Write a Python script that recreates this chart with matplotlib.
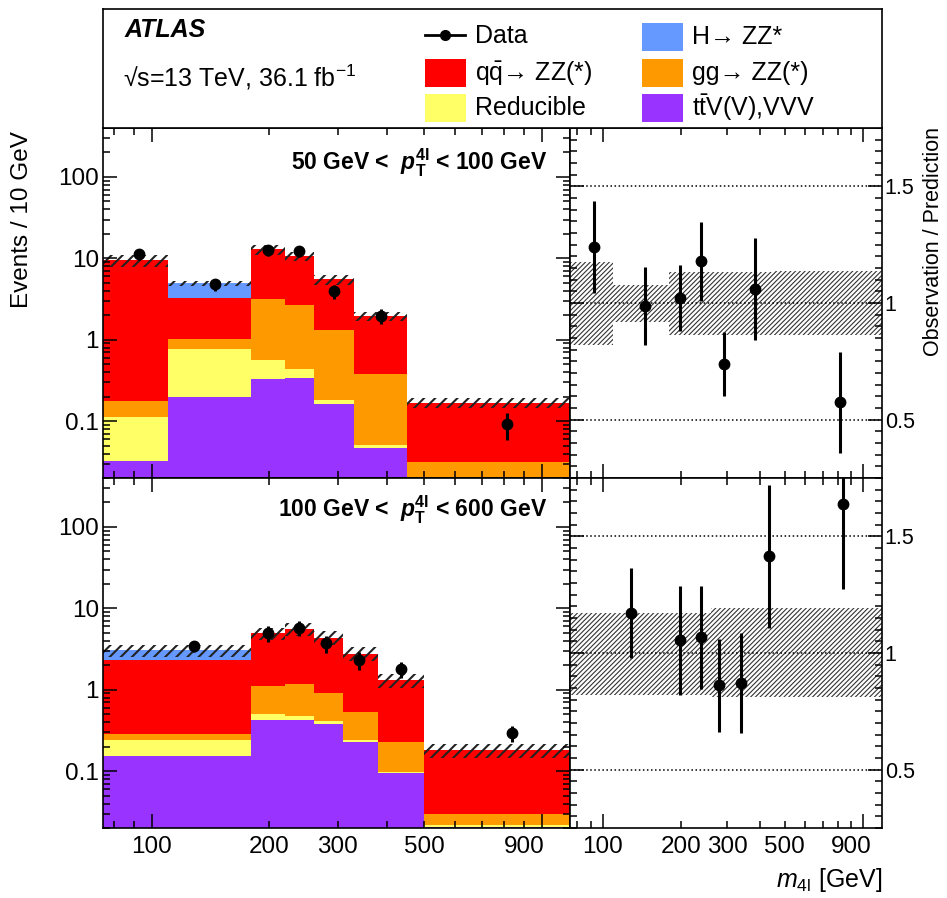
import numpy as np
import matplotlib
matplotlib.use("Agg")
import matplotlib.pyplot as plt
from matplotlib.patches import Rectangle
from matplotlib.lines import Line2D
from matplotlib.ticker import FixedLocator, FuncFormatter, MultipleLocator

plt.rcParams["font.family"] = ["Liberation Sans", "DejaVu Sans"]
plt.rcParams["mathtext.fontset"] = "custom"
plt.rcParams["mathtext.rm"] = "Liberation Sans"
plt.rcParams["mathtext.it"] = "Liberation Sans:italic"
plt.rcParams["mathtext.bf"] = "Liberation Sans:bold"
plt.rcParams["mathtext.bfit"] = "Liberation Sans:bold:italic"

# m4l bin edges [GeV]
edges_lo = [70, 110, 180, 220, 260, 330, 450, 1500]   # 50 < pT4l < 100
edges_hi = [70, 180, 220, 260, 310, 380, 500, 1500]   # 100 < pT4l < 600

# predictions per bin (stack order bottom -> top)
ttv_lo = [0.032, 0.20, 0.33, 0.335, 0.16, 0.046, 0.008]
red_lo = [0.080, 0.57, 0.23, 0.105, 0.024, 0.0045, 0.002]
gg_lo = [0.067, 0.263, 2.63, 2.23, 1.126, 0.332, 0.021]
qq_lo = [9.27, 2.24, 9.7, 8.03, 4.21, 1.57, 0.137]
h_lo = [0.0, 1.65, 0.0, 0.0, 0.0, 0.0, 0.0]

ttv_hi = [0.152, 0.423, 0.43, 0.382, 0.227, 0.0953, 0.0205]
red_hi = [0.088, 0.084, 0.04, 0.028, 0.011, 0.003, 0.001]
gg_hi = [0.042, 0.60, 0.69, 0.508, 0.292, 0.131, 0.008]
qq_hi = [2.01, 3.82, 4.47, 3.44, 2.24, 1.08, 0.15]
h_hi = [0.75, 0.0, 0.0, 0.0, 0.0, 0.0, 0.0]

# relative uncertainty band
band_up_lo = [1.174, 1.078, 1.131, 1.131, 1.131, 1.131, 1.135]
band_dn_lo = [0.821, 0.917, 0.864, 0.864, 0.864, 0.864, 0.864]
band_up_hi = [1.171, 1.171, 1.171, 1.193, 1.193, 1.193, 1.193]
band_dn_hi = [0.820, 0.820, 0.820, 0.812, 0.812, 0.812, 0.812]

# data
xdat_lo = [93, 145, 199, 239, 293, 386, 815]
data_lo = [11.3, 4.83, 12.6, 12.2, 3.96, 1.98, 0.0925]
derr_lo = [1.8, 0.82, 1.8, 1.7, 0.75, 0.42, 0.034]
ratio_lo = [1.24, 0.988, 1.021, 1.178, 0.739, 1.061, 0.574]
rerr_lo = [0.196, 0.168, 0.142, 0.168, 0.138, 0.218, 0.215]

xdat_hi = [128, 199, 239, 280, 339, 436, 836]
data_hi = [3.44, 5.0, 5.78, 3.71, 2.31, 1.78, 0.29]
derr_hi = [0.57, 1.1, 1.2, 0.85, 0.58, 0.39, 0.065]
ratio_hi = [1.171, 1.054, 1.067, 0.861, 0.871, 1.414, 1.64]
rerr_hi = [0.193, 0.235, 0.221, 0.2, 0.215, 0.307, 0.364]

colors = ["#9933FF", "#FFFF66", "#FF9900", "#FF0000", "#6699FF"]
labels = ["t$\\bar{\\rm t}$V(V),VVV", "Reducible", "gg→ ZZ(*)", "q$\\bar{\\rm q}$→ ZZ(*)", "H→ ZZ*"]

W, H = 947, 898
fig = plt.figure(figsize=(W / 100, H / 100), dpi=100)


def fx(px):
    return px / W


def fy(py):
    return 1 - py / H


L, M, R = fx(103), fx(570), fx(882)
rows = [(fy(478), fy(128) - fy(478)), (fy(828), fy(478) - fy(828))]

x_minor = [80, 90, 200, 300, 400, 500, 600, 700, 800, 900]


def style_x(ax, show_labels):
    ax.set_xscale("log")
    ax.set_xlim(75, 1180)
    ax.xaxis.set_major_locator(FixedLocator([100, 1000]))
    ax.xaxis.set_minor_locator(FixedLocator(x_minor))
    if show_labels:
        ax.xaxis.set_major_formatter(FuncFormatter(lambda v, p: "100" if v == 100 else ""))
        ax.xaxis.set_minor_formatter(FuncFormatter(
            lambda v, p: "%d" % v if v in (200, 300, 500, 900) else ""))
    else:
        ax.xaxis.set_major_formatter(FuncFormatter(lambda v, p: ""))
        ax.xaxis.set_minor_formatter(FuncFormatter(lambda v, p: ""))
    ax.tick_params(which="both", direction="in", top=True, right=True,
                   labelsize=17.5, width=1.1, pad=6)
    ax.tick_params(which="major", length=10)
    ax.tick_params(which="minor", length=5)
    for s in ax.spines.values():
        s.set_linewidth(1.2)


def draw_main(ax, edges, comps, band_up, band_dn, xd, yd, yerr, show_labels):
    base = np.full(len(edges) - 1, 1e-4)
    for vals, col in zip(comps, colors):
        top = base + np.array(vals)
        ax.stairs(top, edges, baseline=base, fill=True, color=col, lw=0)
        base = top
    plt.rcParams["hatch.linewidth"] = 1.5
    ax.stairs(base * np.array(band_up), edges, baseline=base * np.array(band_dn),
              fill=True, facecolor="none", edgecolor="#222222", hatch="///", lw=0)
    ax.errorbar(xd, yd, yerr=yerr, fmt="o", color="k", ms=7.5,
                elinewidth=2.2, capsize=0, zorder=5)
    ax.set_yscale("log")
    ax.set_ylim(0.02, 400)
    ax.yaxis.set_major_locator(FixedLocator([0.1, 1, 10, 100]))
    ax.yaxis.set_major_formatter(FuncFormatter(lambda v, p: "%g" % v))
    style_x(ax, show_labels)
    ax.tick_params(axis="y", pad=3)


def draw_ratio(ax, edges, band_up, band_dn, xd, r, rerr, show_labels):
    plt.rcParams["hatch.linewidth"] = 0.8
    ax.stairs(band_up, edges, baseline=band_dn, fill=True, facecolor="none",
              edgecolor="#333333", hatch="///////", lw=0)
    for yv in (0.5, 1.0, 1.5):
        ax.axhline(yv, color="k", ls=":", lw=1.1)
    ax.errorbar(xd, r, yerr=rerr, fmt="o", color="k", ms=7.5,
                elinewidth=2.2, capsize=0, zorder=5)
    ax.set_ylim(0.25, 1.75)
    ax.yaxis.set_major_locator(FixedLocator([0.5, 1.0, 1.5]))
    ax.yaxis.set_minor_locator(MultipleLocator(0.05))
    ax.yaxis.set_major_formatter(FuncFormatter(lambda v, p: "%g" % v))
    style_x(ax, show_labels)
    ax.tick_params(axis="y", labelleft=False, labelright=True, labelsize=15.5, pad=2)


comps_lo = [ttv_lo, red_lo, gg_lo, qq_lo, h_lo]
comps_hi = [ttv_hi, red_hi, gg_hi, qq_hi, h_hi]

ax1 = fig.add_axes([L, rows[0][0], M - L, rows[0][1]])
draw_main(ax1, edges_lo, comps_lo, band_up_lo, band_dn_lo, xdat_lo, data_lo, derr_lo, False)
ax2 = fig.add_axes([M, rows[0][0], R - M, rows[0][1]])
draw_ratio(ax2, edges_lo, band_up_lo, band_dn_lo, xdat_lo, ratio_lo, rerr_lo, False)
ax3 = fig.add_axes([L, rows[1][0], M - L, rows[1][1]])
draw_main(ax3, edges_hi, comps_hi, band_up_hi, band_dn_hi, xdat_hi, data_hi, derr_hi, True)
ax4 = fig.add_axes([M, rows[1][0], R - M, rows[1][1]])
draw_ratio(ax4, edges_hi, band_up_hi, band_dn_hi, xdat_hi, ratio_hi, rerr_hi, True)

# header box with labels and legend (coordinates in pixels)
hd = fig.add_axes([L, fy(128), R - L, fy(9) - fy(128)])
hd.set_xlim(103, 882)
hd.set_ylim(128, 9)
hd.set_xticks([])
hd.set_yticks([])
for s in hd.spines.values():
    s.set_linewidth(1.2)
hd.text(125, 30, "ATLAS", fontsize=18, fontweight="bold", style="italic", va="center")
hd.text(123, 77, "√s=13 TeV, 36.1 fb$^{-1}$", fontsize=18, va="center")

hd.add_line(Line2D([425, 465], [35, 35], color="k", lw=2))
hd.plot([445], [35], "o", color="k", ms=7)
hd.text(475, 36, "Data", fontsize=18, va="center")
leg_pos = [(642, 108), (425, 108), (642, 73), (425, 73), (642, 37)]
for (bx, by), col, lab in zip(leg_pos, colors, labels):
    hd.add_patch(Rectangle((bx, by - 14), 41, 28, facecolor=col, edgecolor="none"))
    hd.text(bx + 50, by, lab, fontsize=18, va="center")

fig.text(fx(547), fy(163), "50 GeV <  $\\mathbfit{p}_{\\mathbf{T}}^{\\mathbf{4l}}$ < 100 GeV",
         fontsize=16.5, fontweight="bold", ha="right", va="center")
fig.text(fx(547), fy(510), "100 GeV <  $\\mathbfit{p}_{\\mathbf{T}}^{\\mathbf{4l}}$ < 600 GeV",
         fontsize=16.5, fontweight="bold", ha="right", va="center")

fig.text(fx(22), fy(131), "Events / 10 GeV", fontsize=17.5, rotation=90, ha="center", va="top")
fig.text(fx(933), fy(127), "Observation / Prediction", fontsize=15.5, rotation=90,
         ha="center", va="top")
fig.text(fx(882), fy(880), "$m_{4\\mathrm{l}}$ [GeV]", fontsize=18, ha="right", va="center")

fig.savefig("out.png", dpi=100)
